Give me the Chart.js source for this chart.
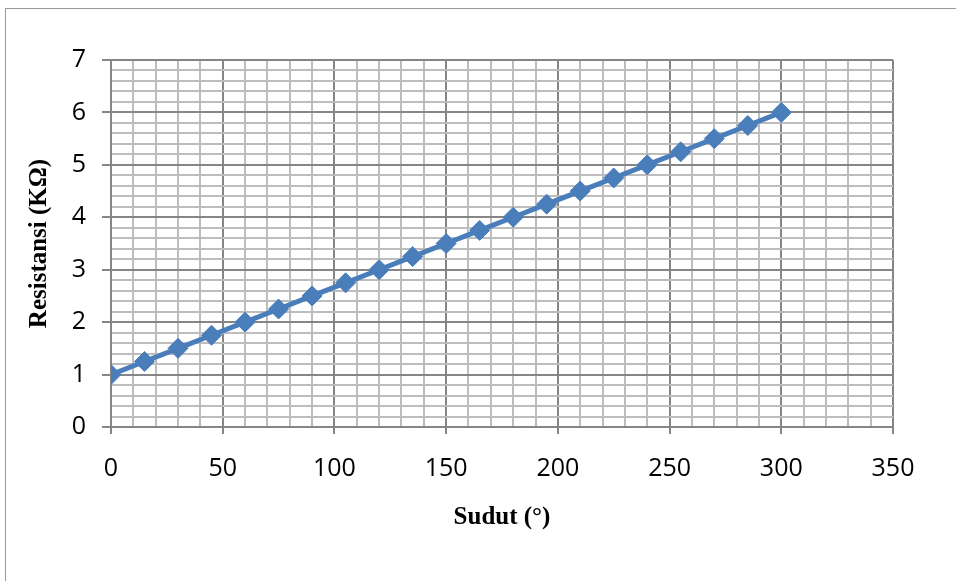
<!DOCTYPE html>
<html>
<head>
<meta charset="utf-8">
<script src="https://cdn.jsdelivr.net/npm/chart.js@4.4.1/dist/chart.umd.min.js"></script>
<style>
  html, body { margin: 0; padding: 0; background: #fff; }
  #wrap { position: relative; width: 956px; height: 581px; overflow: hidden; }
  #frame { position: absolute; left: 5px; top: 8px; width: 1000px; height: 700px; border: 1px solid #9a9a9a; }
  #chart { position: absolute; left: 0; top: 0; }
</style>
</head>
<body>
<div id="wrap">
  <div id="frame"></div>
  <canvas id="chart" width="956" height="581"></canvas>
</div>
<script>
// sudut (derajat) dan resistansi (kilo ohm)
const sudut     = [0, 15, 30, 45, 60, 75, 90, 105, 120, 135, 150, 165, 180, 195, 210, 225, 240, 255, 270, 285, 300];
const resistansi = [1, 1.25, 1.5, 1.75, 2, 2.25, 2.5, 2.75, 3, 3.25, 3.5, 3.75, 4, 4.25, 4.5, 4.75, 5, 5.25, 5.5, 5.75, 6];
const xMajor = 50, xMinor = 10, xMax = 350;
const yMajor = 1,  yMinor = 0.2, yMax = 7;

const majorColor = '#868686';
const minorColor = '#bdbdbd';
const tickFont   = { family: "'Open Sans', sans-serif", size: 25 };
const titleFont  = { family: "'Liberation Serif', 'Times New Roman', serif", size: 25, weight: 'bold' };

function isMajor(v, step) {
    const r = v / step;
    return Math.abs(r - Math.round(r)) < 1e-6;
}

const points = sudut.map(function (s, i) { return { x: s, y: resistansi[i] }; });

new Chart(document.getElementById('chart'), {
    type: 'scatter',
    data: {
        datasets: [{
            data: points,
            showLine: true,
            borderColor: '#4a7ebb',
            borderWidth: 5,
            pointStyle: 'rectRot',
            pointRadius: 10,
            pointHoverRadius: 10,
            pointBackgroundColor: '#4a7ebb',
            pointBorderColor: '#4a7ebb',
            pointBorderWidth: 1,
        }]
    },
    options: {
        responsive: false,
        animation: false,
        layout: { padding: { left: 0, top: 60, right: 63, bottom: 0 } },
        plugins: { legend: { display: false }, tooltip: { enabled: false } },
        scales: {
            x: {
                type: 'linear',
                min: 0, max: xMax,
                afterFit: function (scale) { scale.height = 154; },
                ticks: {
                    stepSize: xMinor,
                    autoSkip: false,
                    maxRotation: 0,
                    padding: 20,
                    font: tickFont,
                    color: '#000',
                    callback: function (v) { return isMajor(v, xMajor) ? v : ''; }
                },
                grid: {
                    color: function (c) { return isMajor(c.tick.value, xMajor) ? majorColor : minorColor; },
                    lineWidth: 2,
                    tickColor: function (c) { return isMajor(c.tick.value, xMajor) ? majorColor : 'rgba(0,0,0,0)'; },
                    tickLength: 7,
                    tickWidth: 2,
                },
                border: { display: true, color: majorColor, width: 2 },
                title: {
                    display: true,
                    text: 'Sudut (°)',
                    font: titleFont,
                    color: '#000',
                    padding: { top: 0, bottom: 48 }
                }
            },
            y: {
                min: 0, max: yMax,
                afterFit: function (scale) { scale.width = 111; },
                ticks: {
                    stepSize: yMinor,
                    autoSkip: false,
                    padding: 16,
                    font: tickFont,
                    color: '#000',
                    callback: function (v) { return isMajor(v, yMajor) ? Math.round(v) : ''; }
                },
                grid: {
                    color: function (c) { return isMajor(c.tick.value, yMajor) ? majorColor : minorColor; },
                    lineWidth: 2,
                    tickColor: function (c) { return isMajor(c.tick.value, yMajor) ? majorColor : 'rgba(0,0,0,0)'; },
                    tickLength: 9,
                    tickWidth: 2,
                },
                border: { display: true, color: majorColor, width: 2 },
                title: {
                    display: true,
                    text: 'Resistansi (KΩ)',
                    font: titleFont,
                    color: '#000',
                    padding: { top: 25, bottom: 0 }
                }
            }
        }
    }
});
</script>
</body>
</html>
